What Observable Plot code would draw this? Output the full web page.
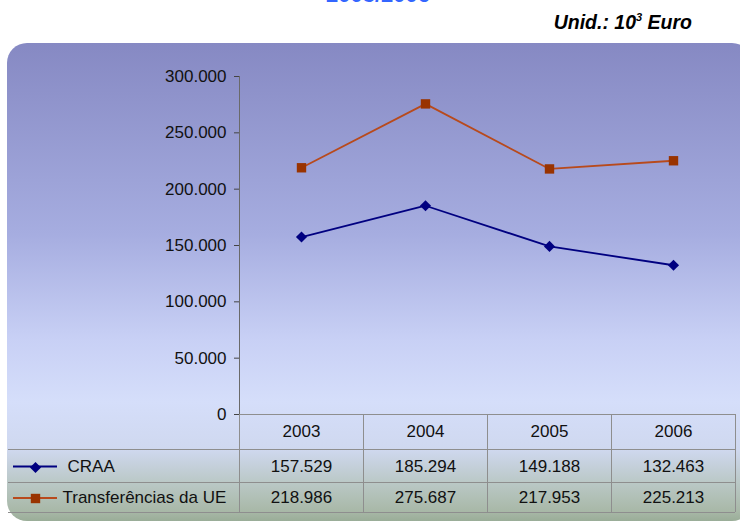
<!DOCTYPE html>
<html><head><meta charset="utf-8">
<script src="https://cdn.jsdelivr.net/npm/d3@7"></script>
<script src="https://cdn.jsdelivr.net/npm/@observablehq/plot@0.6"></script>
<style>
html,body{margin:0;padding:0;background:#fff;overflow:hidden;}
#wrap{position:relative;width:740px;height:523px;overflow:hidden;font-family:"Liberation Sans",Arial,sans-serif;}
#panel{position:absolute;left:7px;top:43px;width:745px;height:478px;border-radius:20px;
background:linear-gradient(to bottom,#8689c3 0%,#a6ade0 40%,#c8d0f5 62%,#d5defa 75%,#cfd8ef 85%,#bac8c6 92%,#a8b8a7 98%,#9aad98 100%);}
#title{position:absolute;left:0;width:756px;text-align:center;top:-16.5px;line-height:1;font-size:22px;font-weight:bold;color:#3366ff;}
#unit{position:absolute;right:48px;top:12.5px;line-height:1;font-size:19.5px;font-weight:bold;font-style:italic;color:#000;}
#unit sup{font-size:11px;vertical-align:8px;line-height:0;}
#chart{position:absolute;left:0;top:0;}
</style></head>
<body>
<div id="wrap">
  <div id="panel"></div>
  <div id="title">2003/2006</div>
  <div id="unit">Unid.: 10<sup>3</sup> Euro</div>
  <div id="chart"></div>
</div>
<script>
const years = ["2003", "2004", "2005", "2006"];
const seriesNames = ["CRAA", "Transferências da UE"];
const craa = [157529, 185294, 149188, 132463];
const ue = [218986, 275687, 217953, 225213];
const yTicks = [0, 50000, 100000, 150000, 200000, 250000, 300000];

const colors = {line: ["#000080", "#b84a1c"], mark: ["#000080", "#993300"]};
const fmt = d3.formatLocale({decimal: ",", thousands: ".", grouping: [3]}).format(",");

const data = [];
years.forEach((y, i) => {
  data.push({year: y, series: seriesNames[0], value: craa[i]});
  data.push({year: y, series: seriesNames[1], value: ue[i]});
});

const tableGrid = (index, scales, values, dim) => {
  const g = d3.create("svg:g");
  const x = scales.x;
  const bw = (dim.width - dim.marginLeft - dim.marginRight) / years.length;
  const top = dim.height - dim.marginBottom;
  const rows = [top, top + 35, top + 68, top + 98];
  const left = 8, right = dim.width - dim.marginRight;
  const gray = "#8e8e8e";
  g.append("line").attr("x1", dim.marginLeft).attr("x2", right).attr("y1", rows[0] + 0.5).attr("y2", rows[0] + 0.5).attr("stroke", gray);
  for (let r = 1; r < rows.length; r++) {
    g.append("line").attr("x1", left).attr("x2", right).attr("y1", rows[r] + 0.5).attr("y2", rows[r] + 0.5).attr("stroke", gray);
  }
  years.forEach(yr => {
    const xs = Math.round(x(yr) + bw) + 0.5;
    g.append("line").attr("x1", xs).attr("x2", xs).attr("y1", rows[0]).attr("y2", rows[3]).attr("stroke", gray);
  });
  g.append("line").attr("x1", dim.marginLeft + 0.5).attr("x2", dim.marginLeft + 0.5)
    .attr("y1", rows[0]).attr("y2", rows[3]).attr("stroke", gray);
  g.append("line").attr("x1", dim.marginLeft + 0.5).attr("x2", dim.marginLeft + 0.5)
    .attr("y1", dim.marginTop).attr("y2", rows[0]).attr("stroke", "#6a6a6a");
  const rowMid = [(rows[1] + rows[2]) / 2 + 1, (rows[2] + rows[3]) / 2 + 1];
  [0, 1].forEach(i => {
    g.append("line").attr("x1", 13).attr("x2", 57).attr("y1", rowMid[i]).attr("y2", rowMid[i])
      .attr("stroke", colors.line[i]).attr("stroke-width", 1.8);
  });
  return g.node();
};

const chart = Plot.plot({
  width: 740,
  height: 523,
  marginLeft: 239,
  marginRight: 5,
  marginTop: 76,
  marginBottom: 109,
  style: {background: "transparent", fontFamily: "'Liberation Sans', Arial, sans-serif", fontSize: "17px", color: "#111"},
  x: {type: "band", domain: years, padding: 0, axis: null},
  y: {domain: [0, 300000], axis: null},
  color: {domain: seriesNames, range: colors.line},
  marks: [
    tableGrid,
    Plot.axisY({ticks: yTicks, tickFormat: d => d === 0 ? "0" : fmt(d), tickSize: 5, tickPadding: 8, label: null, stroke: "#444", fontSize: 17}),
    Plot.line(data, {x: "year", y: "value", z: "series", stroke: "series", strokeWidth: 1.8}),
    Plot.dot(data.filter(d => d.series === seriesNames[0]), {x: "year", y: "value", symbol: "diamond2", r: 5, fill: colors.mark[0], stroke: "none"}),
    Plot.dot(data.filter(d => d.series === seriesNames[1]), {x: "year", y: "value", symbol: "square", r: 5.3, fill: colors.mark[1], stroke: "none"}),
    Plot.text(years, {x: d => d, text: d => d, frameAnchor: "bottom", lineAnchor: "middle", dy: 17}),
    Plot.text(years, {x: d => d, text: (d, i) => fmt(craa[i]), frameAnchor: "bottom", lineAnchor: "middle", dy: 52}),
    Plot.text(years, {x: d => d, text: (d, i) => fmt(ue[i]), frameAnchor: "bottom", lineAnchor: "middle", dy: 83}),
    Plot.text([seriesNames[0]], {text: d => d, frameAnchor: "bottom-left", lineAnchor: "middle", dx: -172, dy: 52, textAnchor: "start"}),
    Plot.text([seriesNames[1]], {text: d => d, frameAnchor: "bottom-left", lineAnchor: "middle", dx: -177, dy: 83, textAnchor: "start", letterSpacing: "0.4px"}),
    Plot.dot([seriesNames[0]], {frameAnchor: "bottom-left", dx: -204, dy: 53, symbol: "diamond2", r: 5, fill: colors.mark[0], stroke: "none"}),
    Plot.dot([seriesNames[1]], {frameAnchor: "bottom-left", dx: -204, dy: 84, symbol: "square", r: 5.3, fill: colors.mark[1], stroke: "none"})
  ]
});
document.getElementById("chart").appendChild(chart);
</script>
</body></html>
